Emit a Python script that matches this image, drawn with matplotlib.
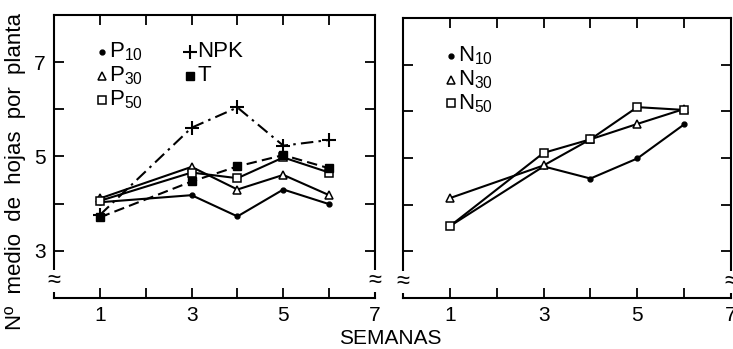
"""
Numero medio de hojas por planta frente a semanas (P, NPK, T / N)
"""
import matplotlib.pyplot as plt

plt.rcParams['font.family'] = ['Liberation Sans', 'DejaVu Sans']
plt.rcParams['mathtext.fontset'] = 'custom'
plt.rcParams['mathtext.rm'] = 'Liberation Sans'

# data
semanas = [1, 3, 4, 5, 6]

p10 = [4.03, 4.18, 3.73, 4.30, 3.99]
p30 = [4.11, 4.78, 4.30, 4.61, 4.18]
p50 = [4.06, 4.66, 4.54, 4.98, 4.66]
npk = [3.76, 5.61, 6.04, 5.23, 5.35]
t = [3.71, 4.47, 4.79, 5.03, 4.75]

n10 = [3.54, 4.82, 4.56, 4.99, 5.72]
n30 = [4.14, 4.84, 5.40, 5.73, 6.05]
n50 = [3.54, 5.11, 5.40, 6.09, 6.03]

x_ticks = [1, 3, 5, 7]
y_ticks = [3, 5, 7]

W, H = 733, 349
fig = plt.figure(figsize=(W / 100, H / 100), dpi=100)
ax1 = fig.add_axes([54 / W, 1 - 298 / H, 321 / W, 283 / H])
ax2 = fig.add_axes([403 / W, 1 - 298 / H, 328 / W, 280 / H])

lw = 1.5
styles = {
    'p10': dict(marker='o', ms=3.5, mfc='k', ls='-'),
    'p30': dict(marker='^', ms=5.5, mfc='white', mew=1.1, ls='-'),
    'p50': dict(marker='s', ms=5.5, mfc='white', mew=1.1, ls='-'),
    'npk': dict(marker='+', ms=10, mew=1.5, ls=(0, (6, 2.5, 1.2, 2.5))),
    't': dict(marker='s', ms=5.5, mfc='k', ls=(0, (5, 2.5))),
}

ax1.plot(semanas, p10, color='k', lw=lw, **styles['p10'])
ax1.plot(semanas, p30, color='k', lw=lw, **styles['p30'])
ax1.plot(semanas, p50, color='k', lw=lw, **styles['p50'])
ax1.plot(semanas, npk, color='k', lw=lw, **styles['npk'])
ax1.plot(semanas, t, color='k', lw=lw, **styles['t'])

ax2.plot(semanas, n10, color='k', lw=lw, **styles['p10'])
ax2.plot(semanas, n30, color='k', lw=lw, **styles['p30'])
ax2.plot(semanas, n50, color='k', lw=lw, **styles['p50'])


def legend_item(ax, x, y, key, label):
    st = {k: v for k, v in styles[key].items() if k != 'ls'}
    ax.plot([x], [y], transform=ax.transAxes, color='k', ls='none',
            clip_on=False, **st)
    ax.text(x + 0.022, y, label, transform=ax.transAxes, fontsize=16,
            va='center', ha='left')


legend_item(ax1, 0.15, 0.87, 'p10', r'P$_{\mathrm{10}}$')
legend_item(ax1, 0.15, 0.785, 'p30', r'P$_{\mathrm{30}}$')
legend_item(ax1, 0.15, 0.70, 'p50', r'P$_{\mathrm{50}}$')
legend_item(ax1, 0.425, 0.87, 'npk', 'NPK')
legend_item(ax1, 0.425, 0.785, 't', 'T')

legend_item(ax2, 0.145, 0.865, 'p10', r'N$_{\mathrm{10}}$')
legend_item(ax2, 0.145, 0.78, 'p30', r'N$_{\mathrm{30}}$')
legend_item(ax2, 0.145, 0.695, 'p50', r'N$_{\mathrm{50}}$')

for ax in (ax1, ax2):
    ax.set_xlim(0, 7)
    ax.set_ylim(2, 8)
    ax.set_xticks(x_ticks)
    ax.set_xticks([2, 4, 6], minor=True)
    ax.set_yticks(y_ticks)
    ax.set_yticks([4, 6], minor=True)
    ax.tick_params(which='both', direction='in', length=7, width=1.3,
                   top=True, right=True, labelsize=15, pad=6)
    for s in ax.spines.values():
        s.set_linewidth(1.5)
    # axis break marks
    for xb in (0, 7):
        ax.text(xb, 2.35, '≈', fontsize=17, ha='center', va='center',
                clip_on=False, bbox=dict(fc='white', ec='none', pad=0))

ax2.set_yticklabels([])

fig.text(16 / W, 1 - 172 / H, 'Nº  medio  de  hojas  por  planta',
         fontsize=16, rotation=90, ha='center', va='center')
fig.text(390 / W, 1 - 338 / H, 'SEMANAS', fontsize=15, ha='center',
         va='center')

plt.savefig('out.png', dpi=100)
